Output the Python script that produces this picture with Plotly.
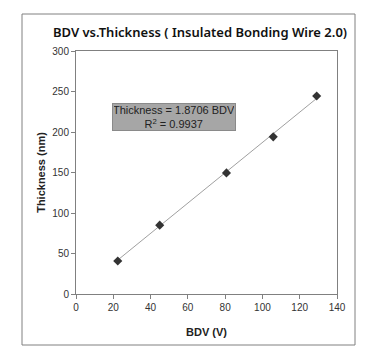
import plotly.graph_objects as go

bdv = [22.4, 44.9, 80.7, 105.8, 129.1]
thickness = [40.7, 85.0, 149.5, 194.0, 244.5]
slope = 1.8706
r2 = 0.9937
x_ticks = [0, 20, 40, 60, 80, 100, 120, 140]
y_ticks = [0, 50, 100, 150, 200, 250, 300]

trend_x = [min(bdv), max(bdv)]
trend_y = [slope * v for v in trend_x]

FONT = "Arial, Liberation Sans, sans-serif"
OFF = 8  # page body margin

fig = go.Figure()
fig.add_trace(go.Scatter(x=trend_x, y=trend_y, mode="lines",
                         line=dict(color="#a0a0a0", width=1), hoverinfo="skip"))
fig.add_trace(go.Scatter(x=bdv, y=thickness, mode="markers",
                         marker=dict(symbol="diamond", size=7, color="#333333")))

W, H = 380 - OFF, 364 - OFF
L, R, T, B = 76 - OFF, 43, 51 - OFF, 70
pw, ph = W - L - R, H - T - B

def px(xp):
    return (xp - OFF - L) / pw

def py(yp):
    return (H - B - (yp - OFF)) / ph

fig.add_shape(type="rect", xref="paper", yref="paper",
              x0=px(22), x1=px(355), y0=py(345), y1=py(14),
              line=dict(color="#808080", width=1), fillcolor="rgba(0,0,0,0)", layer="below")

fig.add_annotation(x=52.8, y=219, xref="x", yref="y", showarrow=False,
                   text=f"Thickness = {slope:.4f} BDV<br>R<sup>2</sup> = {r2:.4f}",
                   font=dict(family=FONT, size=11, color="#222222"),
                   bgcolor="#a6a6a6", bordercolor="#8a8a8a", borderwidth=1, borderpad=1,
                   width=120, height=24, align="center")

fig.update_layout(
    width=W, height=H,
    margin=dict(l=L, r=R, t=T, b=B, autoexpand=False),
    paper_bgcolor="white", plot_bgcolor="white",
    showlegend=False,
    title=dict(text="BDV vs.Thickness ( Insulated Bonding Wire 2.0)",
               x=px(200), xanchor="center", y=1 - (32 - OFF) / H, yanchor="middle", xref="paper",
               font=dict(family="Noto Sans", size=13, weight=600, color="#111111")),
    font=dict(family=FONT, size=10, color="#333333"),
)
fig.update_xaxes(range=[0, 140], tickvals=x_ticks, showgrid=False, zeroline=False,
                 automargin=False,
                 showline=True, linecolor="#808080", linewidth=1, mirror=True,
                 ticks="outside", tickcolor="#808080", ticklen=4,
                 title=dict(text="<b>BDV (V)</b>", font=dict(family=FONT, size=11, color="#222222"), standoff=16))
fig.update_yaxes(range=[0, 300], tickvals=y_ticks, showgrid=False, zeroline=False,
                 automargin=False,
                 showline=True, linecolor="#808080", linewidth=1, mirror=True,
                 ticks="outside", tickcolor="#808080", ticklen=4,
                 title=dict(text="<b>Thickness (nm)</b>", font=dict(family=FONT, size=11, color="#222222"), standoff=4))

fig.write_html("out.html")
